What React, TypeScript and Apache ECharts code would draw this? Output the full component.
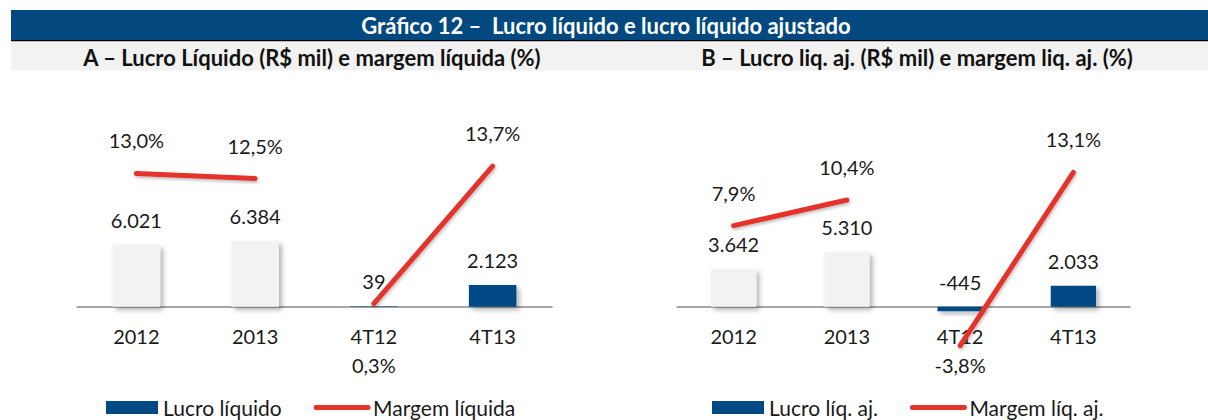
import React, { useEffect, useRef } from "react";
import * as echarts from "echarts";

const categories = ["2012", "2013", "4T12", "4T13"];
const lucroA = [6021, 6384, 39, 2123];
const margemA = [13.0, 12.5, 0.3, 13.7];
const lucroB = [3642, 5310, -445, 2033];
const margemB = [7.9, 10.4, -3.8, 13.1];

const mainTitle = "Gráfico 12 –  Lucro líquido e lucro líquido ajustado";
const subTitleA = "A – Lucro Líquido (R$ mil) e margem líquida (%)";
const subTitleB = "B – Lucro liq. aj. (R$ mil) e margem liq. aj. (%)";
const barNameA = "Lucro líquido";
const lineNameA = "Margem líquida";
const barNameB = "Lucro líq. aj.";
const lineNameB = "Margem líq. aj.";

const NAVY = "#034a84";
const LIGHT = "#f2f2f2";
const RED = "#e5332a";
const FONT = "Lato";

const fmtInt = (v: number) => {
  const s = Math.abs(Math.round(v)).toString().replace(/\B(?=(\d{3})+(?!\d))/g, ".");
  return (v < 0 ? "-" : "") + s;
};
const fmtPct = (v: number) => v.toFixed(1).replace(".", ",") + "%";

function barData(vals: number[]) {
  return vals.map((v, i) => ({
    value: v,
    itemStyle: { color: i < 2 ? LIGHT : NAVY },
  }));
}

function lineData(vals: number[], from: number, to: number) {
  return vals.map((v, i) => {
    if (i < from || i > to) return "-";
    if (v < 0) return { value: v, label: { position: "bottom", distance: 8 } };
    if (v < 1) return { value: v, label: { position: "bottom", distance: 50 } };
    return { value: v };
  });
}

export default function App() {
  const ref = useRef<HTMLDivElement>(null);
  useEffect(() => {
    if (!ref.current) return;
    const chart = echarts.init(ref.current, null, { renderer: "svg" });
    const gridTop = 101.6;
    const gridH = 205.1;
    const textStyle = { fontFamily: FONT, fontSize: 20, color: "#1a1a1a" };
    const barSeries = (name: string, data: number[], xi: number, yi: number) => ({
      type: "bar",
      name,
      xAxisIndex: xi,
      yAxisIndex: yi,
      data: barData(data),
      barWidth: "40%",
      clip: false,
      itemStyle: {
        color: NAVY,
        shadowBlur: 5,
        shadowOffsetX: 3,
        shadowOffsetY: 3,
        shadowColor: "rgba(0,0,0,0.3)",
      },
      label: {
        show: true,
        position: "top",
        distance: 15,
        formatter: (p: any) => fmtInt(p.value),
        ...textStyle,
      },
      z: 2,
    });
    const lineSeries = (name: string, data: number[], from: number, to: number, xi: number, yi: number) => ({
      type: "line",
      name,
      xAxisIndex: xi,
      yAxisIndex: yi,
      data: lineData(data, from, to),
      symbol: "circle",
      symbolSize: 2,
      showSymbol: true,
      connectNulls: false,
      clip: false,
      lineStyle: {
        color: RED,
        width: 5,
        cap: "round",
        shadowBlur: 3,
        shadowOffsetX: 1,
        shadowOffsetY: 2,
        shadowColor: "rgba(0,0,0,0.25)",
      },
      itemStyle: { color: RED },
      label: {
        show: true,
        position: "top",
        distance: 22,
        formatter: (p: any) => fmtPct(p.value),
        ...textStyle,
      },
      z: 3,
    });
    const xAxis = (gi: number) => ({
      type: "category",
      gridIndex: gi,
      data: categories,
      axisLine: { show: true, onZero: false, lineStyle: { color: "#8a8a8a", width: 1.5 } },
      axisTick: { show: false },
      axisLabel: { ...textStyle, margin: 19 },
      splitLine: { show: false },
    });
    const yAxis = (gi: number, min: number, max: number) => ({
      type: "value",
      gridIndex: gi,
      min,
      max,
      show: false,
      splitLine: { show: false },
    });
    const legend = (left: number, names: string[]) => ({
      left,
      top: 397,
      padding: 0,
      orient: "horizontal",
      data: [
        { name: names[0], icon: "rect" },
        { name: names[1], itemStyle: { opacity: 0 } },
      ],
      itemWidth: 52,
      itemHeight: 13,
      itemGap: 32,
      lineStyle: { width: 5, cap: "round" },
      textStyle: { fontFamily: FONT, fontSize: 21, color: "#1a1a1a" },
      selectedMode: false,
    });

    chart.setOption({
      animation: false,
      backgroundColor: "#ffffff",
      grid: [
        { left: 77, top: gridTop, width: 475, height: gridH },
        { left: 677, top: gridTop, width: 453, height: gridH },
      ],
      xAxis: [xAxis(0), xAxis(1)],
      yAxis: [
        yAxis(0, 0, 20000),
        yAxis(0, 0, 20),
        yAxis(1, 0, 20000),
        yAxis(1, 0, 20),
      ],
      legend: [legend(106, [barNameA, lineNameA]), legend(712, [barNameB, lineNameB])],
      series: [
        barSeries(barNameA, lucroA, 0, 0),
        lineSeries(lineNameA, margemA, 0, 1, 0, 1),
        lineSeries(lineNameA, margemA, 2, 3, 0, 1),
        barSeries(barNameB, lucroB, 1, 2),
        lineSeries(lineNameB, margemB, 0, 1, 1, 3),
        lineSeries(lineNameB, margemB, 2, 3, 1, 3),
      ],
      graphic: [
        { type: "rect", shape: { x: 11, y: 10, width: 1197, height: 30 }, style: { fill: "#03497f" }, silent: true },
        { type: "rect", shape: { x: 11, y: 40, width: 1197, height: 1.5 }, style: { fill: "#000000" }, silent: true },
        { type: "rect", shape: { x: 11, y: 41.5, width: 1197, height: 29 }, style: { fill: "#f2f2f2" }, silent: true },
        {
          type: "text",
          x: 606,
          y: 25,
          style: {
            text: mainTitle,
            fill: "#ffffff",
            font: `bold 22px ${FONT}`,
            align: "center",
            verticalAlign: "middle",
          },
          silent: true,
        },
        {
          type: "text",
          x: 312,
          y: 57,
          style: {
            text: subTitleA,
            fill: "#111111",
            font: `bold 22px ${FONT}`,
            align: "center",
            verticalAlign: "middle",
          },
          silent: true,
        },
        {
          type: "text",
          x: 917,
          y: 57,
          style: {
            text: subTitleB,
            fill: "#111111",
            font: `bold 22px ${FONT}`,
            align: "center",
            verticalAlign: "middle",
          },
          silent: true,
        },
      ],
    });
    return () => chart.dispose();
  }, []);
  return (
    <div
      ref={ref}
      style={{ position: "absolute", left: 0, top: 0, width: 1208, height: 420, background: "#fff" }}
    />
  );
}
